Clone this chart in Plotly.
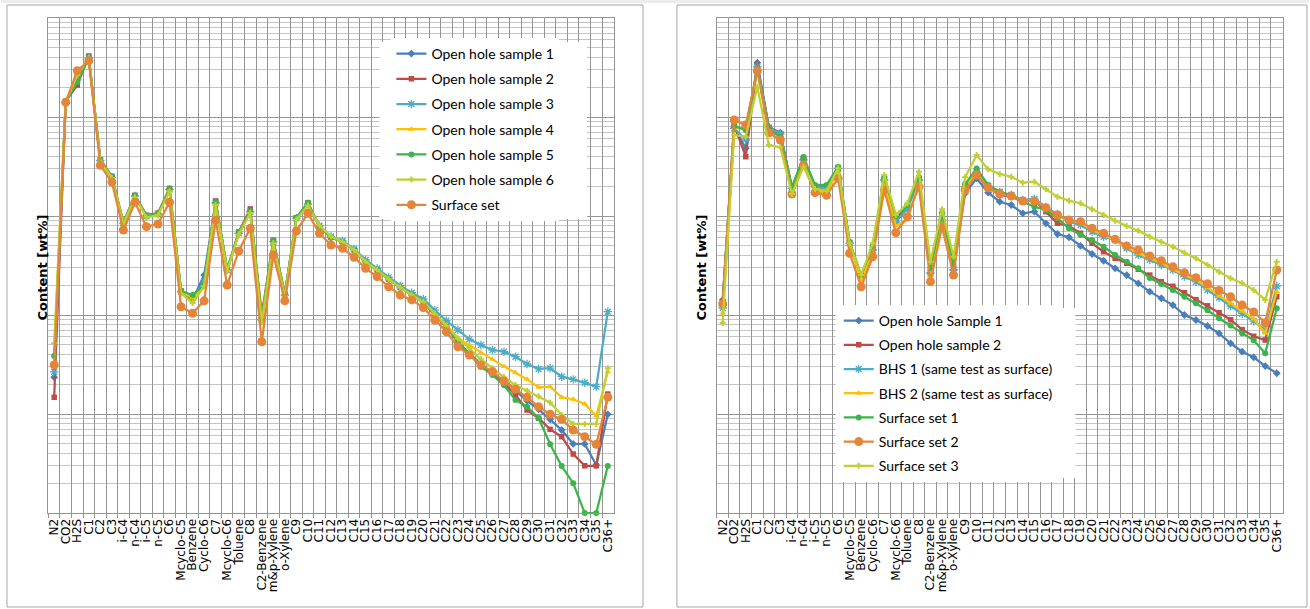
import plotly.graph_objects as go

W, H = 1310, 609

categories = ["N2", "CO2", "H2S", "C1", "C2", "C3", "i-C4", "n-C4", "i-C5", "n-C5", "C6",
              "Mcyclo-C5", "Benzene", "Cyclo-C6", "C7", "Mcyclo-C6", "Toluene", "C8",
              "C2-Benzene", "m&p-Xylene", "o-Xylene", "C9", "C10", "C11", "C12", "C13",
              "C14", "C15", "C16", "C17", "C18", "C19", "C20", "C21", "C22", "C23", "C24",
              "C25", "C26", "C27", "C28", "C29", "C30", "C31", "C32", "C33", "C34", "C35", "C36+"]

# ---------------- left chart (wt%) ----------------
left_oh1 = [0.0235, 14.2, 24.8, 39.4, 3.62, 2.46, 0.844, 1.59, 1.0, 1.047, 1.86, 0.172, 0.142, 0.253,
            1.36, 0.285, 0.669, 1.105, 0.089, 0.55, 0.159, 0.948, 1.32, 0.78, 0.607, 0.55, 0.454,
            0.345, 0.285, 0.23, 0.19, 0.159, 0.136, 0.100, 0.0762, 0.0537, 0.0404, 0.032, 0.0254,
            0.022, 0.0172, 0.0136, 0.01115, 0.00883, 0.00689, 0.00498, 0.00498, 0.00305, 0.00993]
left_oh2 = [0.01475, 14.4, 21.0, 41.3, 3.70, 2.52, 0.86, 1.62, 1.02, 1.07, 1.90, 0.175, 0.149, 0.205,
            1.42, 0.29, 0.69, 1.18, 0.102, 0.57, 0.162, 0.96, 1.36, 0.78, 0.607, 0.55, 0.454,
            0.345, 0.285, 0.23, 0.19, 0.159, 0.136, 0.100, 0.0762, 0.0537, 0.0404, 0.0301, 0.0258,
            0.0204, 0.01556, 0.01097, 0.00906, 0.0070, 0.0059, 0.00394, 0.0030, 0.0030, 0.0159]
left_oh3 = [0.0267, 14.2, 23.7, 39.4, 3.62, 2.46, 0.844, 1.59, 1.0, 1.047, 1.86, 0.172, 0.149, 0.215,
            1.36, 0.285, 0.669, 1.105, 0.089, 0.55, 0.159, 0.948, 1.32, 0.80, 0.62, 0.56, 0.465,
            0.36, 0.295, 0.24, 0.198, 0.168, 0.145, 0.112, 0.0875, 0.0706, 0.0568, 0.0498, 0.0443,
            0.0426, 0.0379, 0.032, 0.0285, 0.029, 0.0238, 0.0224, 0.0207, 0.0189, 0.108]
left_oh4 = [0.040, 14.2, 26.6, 39.4, 3.62, 2.46, 0.844, 1.59, 1.0, 1.047, 1.86, 0.172, 0.149, 0.201,
            1.36, 0.285, 0.669, 1.105, 0.089, 0.55, 0.159, 0.948, 1.32, 0.78, 0.607, 0.55, 0.454,
            0.345, 0.285, 0.23, 0.19, 0.159, 0.136, 0.104, 0.079, 0.0586, 0.0498, 0.0416, 0.0357,
            0.0301, 0.0261, 0.0224, 0.0186, 0.0189, 0.01475, 0.0141, 0.0126, 0.00955, 0.0267]
left_oh5 = [0.0385, 14.2, 22.6, 39.4, 3.62, 2.46, 0.844, 1.59, 1.0, 1.047, 1.86, 0.175, 0.159, 0.201,
            1.38, 0.29, 0.669, 1.12, 0.092, 0.56, 0.162, 0.96, 1.36, 0.78, 0.607, 0.55, 0.454,
            0.345, 0.285, 0.23, 0.19, 0.159, 0.136, 0.100, 0.0762, 0.0537, 0.0404, 0.0301, 0.0248,
            0.0195, 0.01385, 0.01186, 0.00906, 0.00494, 0.00298, 0.0020, 0.001, 0.001, 0.00298]
left_oh6 = [0.0518, 14.2, 26.6, 39.4, 3.55, 2.42, 0.83, 1.55, 0.97, 1.02, 1.78, 0.165, 0.132, 0.195,
            1.30, 0.28, 0.65, 1.07, 0.085, 0.53, 0.155, 0.92, 1.28, 0.80, 0.62, 0.55, 0.454,
            0.345, 0.285, 0.23, 0.19, 0.159, 0.136, 0.102, 0.078, 0.058, 0.046, 0.0357, 0.029,
            0.0235, 0.0196, 0.0172, 0.015, 0.0131, 0.00977, 0.00793, 0.00793, 0.00793, 0.029]
left_surface = [0.0313, 14.07, 29.4, 37.0, 3.25, 2.20, 0.722, 1.375, 0.78, 0.83, 1.375, 0.121, 0.104,
                0.139, 0.911, 0.201, 0.443, 0.751, 0.0537, 0.404, 0.139, 0.705, 1.064, 0.669, 0.509,
                0.472, 0.383, 0.296, 0.244, 0.193, 0.159, 0.142, 0.1186, 0.089, 0.0678, 0.0478,
                0.0394, 0.0313, 0.0267, 0.0215, 0.0178, 0.01475, 0.01186, 0.00993, 0.00883, 0.00689,
                0.0059, 0.00494, 0.01475]

# ---------------- right chart (wt%) ----------------
right_oh1 = [0.142, 7.87, 4.83, 35.3, 7.87, 6.93, 1.905, 3.74, 1.977, 1.93, 3.03, 0.530, 0.244, 0.454,
             2.31, 0.875, 1.197, 2.31, 0.264, 0.911, 0.285, 1.695, 2.40, 1.72, 1.394, 1.292, 1.064,
             1.105, 0.844, 0.658, 0.610, 0.498, 0.413, 0.353, 0.296, 0.253, 0.209, 0.172, 0.1476,
             0.126, 0.100, 0.089, 0.0774, 0.0653, 0.0518, 0.0426, 0.0374, 0.0305, 0.0258]
right_oh2 = [0.135, 8.30, 3.97, 33.5, 7.87, 6.73, 1.905, 3.85, 1.963, 1.92, 2.98, 0.530, 0.242, 0.475,
             2.31, 0.933, 1.233, 2.36, 0.272, 0.955, 0.292, 1.963, 2.80, 1.905, 1.63, 1.567, 1.394,
             1.451, 1.105, 0.844, 0.792, 0.669, 0.530, 0.436, 0.374, 0.333, 0.290, 0.253, 0.217,
             0.195, 0.168, 0.1428, 0.1239, 0.1055, 0.0897, 0.0711, 0.0610, 0.0559, 0.153]
right_bhs1 = [0.1177, 7.69, 5.86, 32.2, 7.74, 6.73, 1.905, 3.68, 1.963, 1.92, 3.05, 0.533, 0.242, 0.454,
              2.31, 0.869, 1.205, 2.31, 0.266, 0.911, 0.285, 1.963, 2.78, 2.01, 1.747, 1.63, 1.451,
              1.485, 1.233, 1.047, 0.875, 0.811, 0.694, 0.618, 0.573, 0.472, 0.404, 0.360, 0.320,
              0.285, 0.244, 0.217, 0.179, 0.150, 0.1233, 0.1031, 0.0869, 0.0706, 0.196]
right_bhs2 = [0.1047, 7.74, 7.69, 30.3, 7.28, 6.43, 1.832, 3.51, 1.759, 1.747, 2.78, 0.509, 0.226, 0.423,
              2.15, 0.792, 0.911, 2.15, 0.248, 0.830, 0.278, 1.92, 2.80, 1.832, 1.72, 1.63, 1.394,
              1.451, 1.197, 0.984, 0.911, 0.856, 0.722, 0.643, 0.573, 0.483, 0.420, 0.374, 0.333,
              0.290, 0.253, 0.226, 0.1874, 0.1556, 0.1312, 0.1097, 0.0912, 0.0653, 0.172]
right_ss1 = [0.126, 8.11, 7.39, 31.0, 7.51, 6.32, 1.963, 3.94, 2.06, 2.06, 3.13, 0.546, 0.253, 0.498,
             2.48, 1.0, 1.292, 2.48, 0.298, 1.072, 0.320, 2.10, 3.01, 2.06, 1.759, 1.63, 1.394,
             1.241, 1.150, 0.948, 0.751, 0.643, 0.573, 0.490, 0.404, 0.345, 0.296, 0.236, 0.206,
             0.179, 0.153, 0.1312, 0.1115, 0.0926, 0.0783, 0.0653, 0.0555, 0.0410, 0.1169]
right_ss2 = [0.129, 9.33, 8.30, 29.4, 6.93, 5.86, 1.667, 3.27, 1.72, 1.618, 2.40, 0.420, 0.193, 0.388,
             1.832, 0.678, 0.984, 1.977, 0.217, 0.780, 0.253, 1.832, 2.59, 1.93, 1.667, 1.59, 1.419,
             1.419, 1.213, 1.023, 0.911, 0.875, 0.751, 0.669, 0.582, 0.498, 0.454, 0.394, 0.353,
             0.308, 0.267, 0.238, 0.207, 0.1767, 0.153, 0.126, 0.1072, 0.0836, 0.285]
right_ss3 = [0.0830, 6.58, 6.32, 20.2, 5.21, 4.94, 1.667, 3.15, 1.875, 1.80, 3.03, 0.530, 0.253, 0.530,
             2.59, 1.023, 1.343, 2.80, 0.345, 1.169, 0.388, 2.46, 4.13, 2.96, 2.66, 2.49, 2.17,
             2.22, 1.86, 1.567, 1.429, 1.343, 1.169, 1.023, 0.897, 0.792, 0.711, 0.618, 0.550,
             0.490, 0.426, 0.374, 0.320, 0.274, 0.235, 0.209, 0.179, 0.142, 0.345]

for arr in [left_oh1, left_oh2, left_oh3, left_oh4, left_oh5, left_oh6, left_surface,
            right_oh1, right_oh2, right_bhs1, right_bhs2, right_ss1, right_ss2, right_ss3]:
    assert len(arr) == len(categories), len(arr)

BLUE, RED, TEAL, YEL, GRN, YG, ORG = "#4a7ebb", "#be4b48", "#4bacc6", "#ffc000", "#3cb44b", "#bfd030", "#e5853a"

styles = {
    "blue": dict(color=BLUE, symbol="diamond", size=6),
    "red": dict(color=RED, symbol="square", size=5.5),
    "teal": dict(color=TEAL, symbol="asterisk-open", size=7, line=dict(color=TEAL, width=1.3)),
    "yel": dict(color=YEL, symbol="triangle-up", size=6),
    "grn": dict(color=GRN, symbol="circle", size=6),
    "yg": dict(color=YG, symbol="cross", size=5),
    "org": dict(color=ORG, symbol="circle", size=9),
}

fig = go.Figure()

left_series = [("Open hole sample 1", left_oh1, "blue"), ("Open hole sample 2", left_oh2, "red"),
               ("Open hole sample 3", left_oh3, "teal"), ("Open hole sample 4", left_oh4, "yel"),
               ("Open hole sample 5", left_oh5, "grn"), ("Open hole sample 6", left_oh6, "yg"),
               ("Surface set", left_surface, "org")]
right_series = [("Open hole Sample 1", right_oh1, "blue"), ("Open hole sample 2", right_oh2, "red"),
                ("BHS 1 (same test as surface)", right_bhs1, "teal"),
                ("BHS 2 (same test as surface)", right_bhs2, "yel"),
                ("Surface set 1", right_ss1, "grn"), ("Surface set 2", right_ss2, "org"),
                ("Surface set 3", right_ss3, "yg")]

for i, (name, vals, st) in enumerate(left_series):
    m = styles[st]
    fig.add_trace(go.Scatter(x=categories, y=vals, name=name, mode="lines+markers",
                             line=dict(color=m["color"], width=2.25), marker=m,
                             xaxis="x", yaxis="y", legend="legend", legendgroup="L%d" % i,
                             cliponaxis=False))
for i, (name, vals, st) in enumerate(right_series):
    m = styles[st]
    fig.add_trace(go.Scatter(x=categories, y=vals, name=name, mode="lines+markers",
                             line=dict(color=m["color"], width=2.25), marker=m,
                             xaxis="x2", yaxis="y2", legend="legend2", legendgroup="R%d" % i,
                             cliponaxis=False))

GRID = "#959595"
MINOR = "#c4c4c4"
TICKFONT = dict(family="DejaVu Sans", size=12, color="#000000")

def xax(domain):
    return dict(domain=domain, type="category", categoryorder="array", categoryarray=categories,
                range=[-0.5, len(categories) - 0.5], tickson="boundaries", ticks="outside",
                tickmode="linear", tick0=0, dtick=1,
                ticklen=4, tickcolor=GRID, tickangle=-90, tickfont=TICKFONT,
                showgrid=True, gridcolor=GRID, gridwidth=1, showline=True, linecolor=GRID,
                mirror=True, zeroline=False, fixedrange=True)

def yax(anchor):
    return dict(domain=[96 / H, 591 / H], type="log", range=[-3, 2], dtick=1,
                showticklabels=False, ticks="", showgrid=True, gridcolor=GRID, gridwidth=1,
                minor=dict(showgrid=True, gridcolor=MINOR, gridwidth=1, dtick="D1", ticks=""),
                showline=True, linecolor=GRID, mirror=True, zeroline=False, anchor=anchor,
                fixedrange=True)

legfont = dict(family="Lato, Liberation Sans", size=14, color="#000000")

fig.update_layout(
    width=W, height=H, margin=dict(l=0, r=0, t=0, b=0),
    paper_bgcolor="white", plot_bgcolor="white", showlegend=True,
    xaxis=xax([47.5 / W, 613.5 / W]) | dict(anchor="y"),
    yaxis=yax("x"),
    xaxis2=xax([717 / W, 1283.5 / W]) | dict(anchor="y2"),
    yaxis2=yax("x2"),
    legend=dict(x=391 / W, y=1 - 38 / H, xanchor="left", yanchor="top", bgcolor="white",
                font=legfont, traceorder="grouped", tracegroupgap=4, itemwidth=30),
    legend2=dict(x=839 / W, y=1 - 305 / H, xanchor="left", yanchor="top", bgcolor="white",
                 font=legfont, traceorder="grouped", tracegroupgap=3, itemwidth=30),
    shapes=[
        dict(type="rect", xref="paper", yref="paper", x0=0, x1=1, y0=1 - 3 / H, y1=1,
             line=dict(width=0), fillcolor="#ececec", layer="below"),
        dict(type="rect", xref="paper", yref="paper", x0=6 / W, x1=643 / W, y0=1 - 607 / H,
             y1=1 - 5 / H, line=dict(color="#a6a6a6", width=1), layer="below"),
        dict(type="rect", xref="paper", yref="paper", x0=677 / W, x1=1308 / W, y0=1 - 607 / H,
             y1=1 - 5 / H, line=dict(color="#a6a6a6", width=1), layer="below"),
        dict(type="rect", xref="paper", yref="paper", x0=379 / W, x1=587 / W, y0=1 - 219 / H,
             y1=1 - 42 / H, line=dict(width=0), fillcolor="white", layer="above"),
        dict(type="rect", xref="paper", yref="paper", x0=836 / W, x1=1076 / W, y0=1 - 478 / H,
             y1=1 - 308 / H, line=dict(width=0), fillcolor="white", layer="above"),
    ],
    annotations=[
        dict(text="<b>Content [wt%]</b>", xref="paper", yref="paper", x=32 / W, y=1 - 267 / H,
             textangle=-90, showarrow=False, font=dict(family="DejaVu Sans", size=13, color="#000")),
        dict(text="<b>Content [wt%]</b>", xref="paper", yref="paper", x=701.5 / W, y=1 - 267 / H,
             textangle=-90, showarrow=False, font=dict(family="DejaVu Sans", size=13, color="#000")),
    ],
)

fig.write_html("out.html", config={"displayModeBar": False},
               post_script="document.body.style.margin='0';document.body.style.overflow='hidden';")
